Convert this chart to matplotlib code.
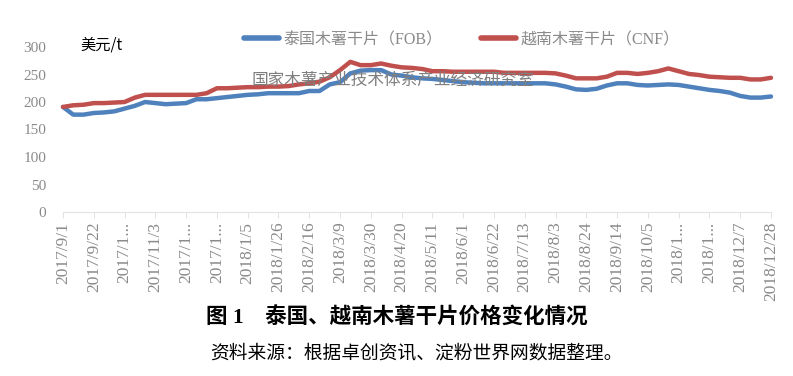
import numpy as np
import matplotlib
matplotlib.use("Agg")
import matplotlib.pyplot as plt

# weekly prices, USD/t, 2017/9/1 .. 2018/12/28
thai_fob = [191, 177, 177, 180, 181, 183, 188, 193, 200, 198,
            196, 197, 198, 205, 205, 207, 209, 211, 213, 214,
            216, 216, 216, 216, 220, 220, 232, 236, 252, 257,
            258, 258, 250, 248, 245, 243, 242, 240, 238, 236,
            235, 234, 234, 234, 234, 234, 234, 234, 232, 228,
            223, 222, 224, 230, 234, 234, 231, 230, 231, 232,
            231, 228, 225, 222, 220, 217, 211, 208, 208, 210]
viet_cnf = [191, 194, 195, 198, 198, 199, 200, 208, 213, 213,
            213, 213, 213, 213, 216, 225, 225, 226, 227, 227,
            228, 228, 229, 232, 234, 237, 245, 258, 273, 267,
            267, 270, 266, 263, 262, 260, 256, 256, 255, 255,
            255, 255, 255, 253, 253, 253, 253, 253, 252, 248,
            243, 243, 243, 246, 253, 253, 251, 253, 256, 261,
            256, 251, 249, 246, 245, 244, 244, 241, 241, 244]
tick_labels = ["2017/9/1", "2017/9/22", "2017/1...", "2017/11/3", "2017/1...",
               "2017/1...", "2018/1/5", "2018/1/26", "2018/2/16", "2018/3/9",
               "2018/3/30", "2018/4/20", "2018/5/11", "2018/6/1", "2018/6/22",
               "2018/7/13", "2018/8/3", "2018/8/24", "2018/9/14", "2018/10/5",
               "2018/1...", "2018/1...", "2018/12/7", "2018/12/28"]
y_ticks = [0, 50, 100, 150, 200, 250, 300]

serif_cjk = ["Liberation Serif", "Noto Sans CJK SC"]
cjk = ["Noto Sans CJK SC", "DejaVu Sans"]
grey = "#8a8a8a"

W, H = 793, 376
fig = plt.figure(figsize=(W / 100, H / 100), dpi=100)
ax = fig.add_axes([63 / W, 1 - 212 / H, (771 - 63) / W, (212 - 47) / H])

x = np.arange(len(thai_fob))
ax.plot(x, thai_fob, color="#4F81BD", lw=3.2, solid_capstyle="round", label="泰国木薯干片（FOB）")
ax.plot(x, viet_cnf, color="#C0504D", lw=3.2, solid_capstyle="round", label="越南木薯干片（CNF）")

ax.set_xlim(0, len(x) - 1)
ax.set_ylim(0, 300)
ax.set_xticks(np.arange(0, len(x), 3))
ax.set_xticklabels(tick_labels, rotation=90, family=serif_cjk, fontsize=12.5, color=grey)
ax.set_yticks(y_ticks)
ax.set_yticklabels([str(v) for v in y_ticks], family=serif_cjk, fontsize=11, color=grey)
for s in ["top", "right", "left"]:
    ax.spines[s].set_visible(False)
ax.spines["bottom"].set_color("#e3e3e3")
ax.tick_params(axis="x", length=4, color="#e3e3e3", pad=3)
ax.tick_params(axis="y", length=0, pad=12)
for ln in ax.lines:
    ln.set_clip_on(False)

leg = fig.legend(loc="center", bbox_to_anchor=(462 / W, 1 - 40 / H), ncol=2, frameon=False,
                 prop={"family": serif_cjk, "size": 11.5}, handlelength=2.2,
                 handletextpad=0.3, columnspacing=2.4)
for t in leg.get_texts():
    t.set_color(grey)
for h in leg.legend_handles:
    h.set_linewidth(4)

fig.text(80 / W, 1 - 45 / H, "美元/t", family=cjk, fontsize=11, color="black", va="center")
fig.text(252 / W, 1 - 80 / H, "国家木薯产业技术体系产业经济研究室", family=cjk,
         fontsize=12, color="#7f7f7f", va="center", zorder=10)

fig.text(397 / W, 1 - 318 / H, "图 1　泰国、越南木薯干片价格变化情况", family=serif_cjk,
         fontsize=15.5, fontweight="bold", ha="center", va="center")
fig.text(416 / W, 1 - 353 / H, "资料来源：根据卓创资讯、淀粉世界网数据整理。", family=serif_cjk,
         fontsize=13.5, ha="center", va="center")

fig.savefig("out.png", dpi=100)
